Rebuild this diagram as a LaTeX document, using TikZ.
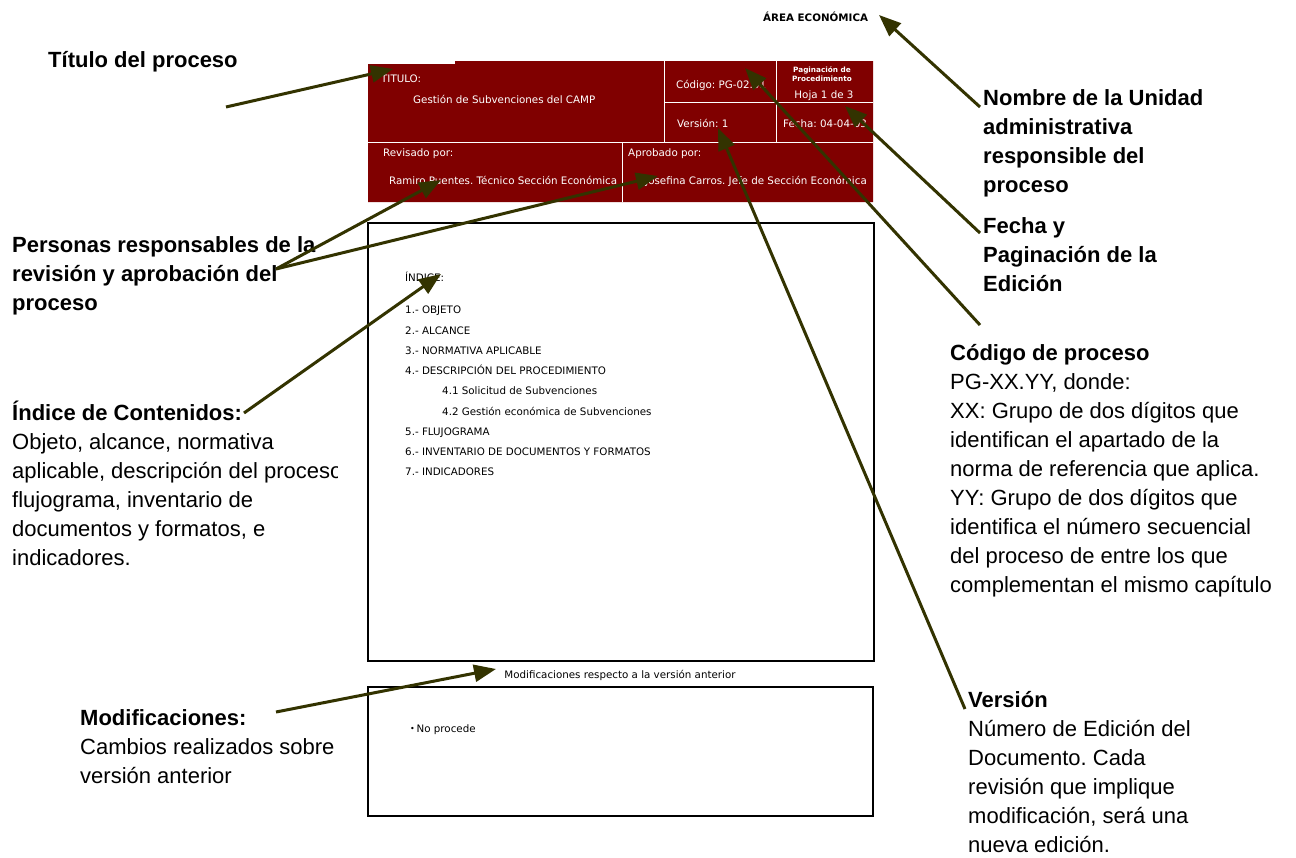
\documentclass[tikz,border=0pt]{standalone}
\usepackage{fontspec}
\setmainfont{Liberation Sans}
\newfontfamily\formfont{DejaVu Sans}
\usetikzlibrary{arrows.meta}
\definecolor{formred}{RGB}{128,0,0}
\definecolor{calloutcol}{RGB}{51,51,0}
\frenchspacing
\tikzset{
  lbl/.style={anchor=base west, inner sep=0pt, font=\fontsize{22}{29}\selectfont},
  lblb/.style={anchor=base west, inner sep=0pt, font=\fontsize{22}{29}\selectfont\bfseries},
  form/.style={anchor=base west, inner sep=0pt, text=white, font=\formfont\fontsize{10.3}{12}\selectfont},
  formsmall/.style={anchor=base, inner sep=0pt, text=white, font=\formfont\bfseries\fontsize{7.3}{9}\selectfont},
  idx/.style={anchor=base west, inner sep=0pt, text=black, font=\formfont\fontsize{10.3}{12}\selectfont},
  callout/.style={draw=calloutcol, line width=3pt, -{Triangle[length=22pt,width=17pt]}},
  cell/.style={draw=white, line width=1pt},
  frame/.style={draw=black, line width=1.2pt}
}
\begin{document}
\begin{tikzpicture}[x=1pt,y=-1pt]
\useasboundingbox (0,0) rectangle (1296,857);
\fill[white] (0,0) rectangle (1296,857);

% ---- unit name
\node[idx, font=\formfont\bfseries\fontsize{10.3}{12}\selectfont] (area) at (763,21) {ÁREA ECONÓMICA};

% ---- form header
\fill[formred] (368,64) -- (455,64) -- (455,61) -- (873,61) -- (873,202) -- (368,202) -- cycle;
\draw[cell] (368,142) -- (873,142);
\draw[cell] (664,61) -- (664,142);
\draw[cell] (776,61) -- (776,142);
\draw[cell] (664,102) -- (873,102);
\draw[cell] (622,142) -- (622,202);

\node[form] (titulo) at (381,82) {TITULO:};
\node[form] (nombreproc) at (413,103) {Gestión de Subvenciones del CAMP};
\node[form] (codigo) at (676,88) {Código: PG-02.01};
\node[formsmall] (pag1) at (822,72) {Paginación de};
\node[formsmall] (pag2) at (822,81.5) {Procedimiento};
\node[form, anchor=base] (hoja) at (824,98) {Hoja 1 de 3};
\node[form] (version) at (677,127.5) {Versión: 1};
\node[form] (fecha) at (783,127.5) {Fecha: 04-04-03};
\node[form] (revisado) at (383,156.5) {Revisado por:};
\node[form] (revisor) at (389,184) {Ramiro Puentes. Técnico Sección Económica};
\node[form] (aprobado) at (628,156.5) {Aprobado por:};
\node[form, anchor=base east] (aprobador) at (867,184) {Josefina Carros. Jefe de Sección Económica};

% ---- table of contents
\draw[frame] (368,223) rectangle (874,661);
\node[idx] (indice) at (405,281) {ÍNDICE:};
\foreach \x/\t [count=\i from 0] in {
  405/1.- OBJETO,
  405/2.- ALCANCE,
  405/3.- NORMATIVA APLICABLE,
  405/4.- DESCRIPCIÓN DEL PROCEDIMIENTO,
  442/4.1 Solicitud de Subvenciones,
  442/4.2 Gestión económica de Subvenciones,
  405/5.- FLUJOGRAMA,
  405/6.- INVENTARIO DE DOCUMENTOS Y FORMATOS,
  405/7.- INDICADORES}
  \node[idx] (idx\i) at (\x,313.8+20.27*\i) {\t};

% ---- changes box
\node[idx, anchor=base] (modtit) at (620,678) {Modificaciones respecto a la versión anterior};
\draw[frame] (368,687) rectangle (873,816);
\node[idx] (noprocede) at (410,732) {{\fontsize{8}{9}\selectfont\raisebox{0.8pt}{•}}\,No procede};

% ---- callout texts, left
\node[lblb] (lTit) at (48,67) {Título del proceso};

\node[lblb] (lPer1) at (12,252) {Personas responsables de la};
\node[lblb] (lPer2) at (12,281) {revisión y aprobación del};
\node[lblb] (lPer3) at (12,310) {proceso};

\node[lblb] (lInd0) at (12,420) {Índice de Contenidos:};
\node[lbl] (lInd1) at (12,449) {Objeto, alcance, normativa};
\begin{scope}
  \clip (0,440) rectangle (337,500);
  \node[lbl] (lInd2) at (12,478) {aplicable, descripción del proceso};
\end{scope}
\node[lbl] (lInd3) at (12,507) {flujograma, inventario de};
\node[lbl] (lInd4) at (12,536) {documentos y formatos, e};
\node[lbl] (lInd5) at (12,565) {indicadores.};

\node[lblb] (lMod0) at (80,725) {Modificaciones:};
\node[lbl] (lMod1) at (80,754) {Cambios realizados sobre};
\node[lbl] (lMod2) at (80,783) {versión anterior};

% ---- callout texts, right
\node[lblb] (lUni1) at (983,105) {Nombre de la Unidad};
\node[lblb] (lUni2) at (983,134) {administrativa};
\node[lblb] (lUni3) at (983,163) {responsible del};
\node[lblb] (lUni4) at (983,192) {proceso};

\node[lblb] (lFec1) at (983,233) {Fecha y};
\node[lblb] (lFec2) at (983,262) {Paginación de la};
\node[lblb] (lFec3) at (983,291) {Edición};

\node[lblb] (lCod0) at (950,360) {Código de proceso};
\foreach \t [count=\i] in {
  {PG-XX.YY, donde:},
  {XX: Grupo de dos dígitos que},
  {identifican el apartado de la},
  {norma de referencia que aplica.},
  {YY: Grupo de dos dígitos que},
  {identifica el número secuencial},
  {del proceso de entre los que},
  {complementan el mismo capítulo}}
  \node[lbl] (lCod\i) at (950,360+29*\i) {\t};

\node[lblb] (lVer0) at (968,707) {Versión};
\foreach \t [count=\i] in {
  {Número de Edición del},
  {Documento. Cada},
  {revisión que implique},
  {modificación, será una},
  {nueva edición.}}
  \node[lbl] (lVer\i) at (968,707+29*\i) {\t};

% ---- callout arrows
\coordinate (sTit) at (226,107);  \coordinate (hTit) at (393,69);
\coordinate (sPer) at (276,269);  \coordinate (hRev) at (441,180);
\coordinate (hApr) at (658,176);
\coordinate (sInd) at (244,413);  \coordinate (hInd) at (441,274);
\coordinate (sMod) at (276,712);  \coordinate (hMod) at (496,669);
\coordinate (sUni) at (980,107);  \coordinate (hUni) at (879,15);
\coordinate (sFec) at (980,233);  \coordinate (hFec) at (845,106);
\coordinate (sCod) at (980,325);  \coordinate (hCod) at (745,68);
\coordinate (sVer) at (965,709);  \coordinate (hVer) at (718,128);

\draw[callout] (sTit) -- (hTit);
\draw[callout] (sPer) -- (hRev);
\draw[callout] (sPer) -- (hApr);
\draw[callout] (sInd) -- (hInd);
\draw[callout] (sMod) -- (hMod);
\draw[callout] (sUni) -- (hUni);
\draw[callout] (sFec) -- (hFec);
\draw[callout] (sCod) -- (hCod);
\draw[callout] (sVer) -- (hVer);
\end{tikzpicture}
\end{document}
